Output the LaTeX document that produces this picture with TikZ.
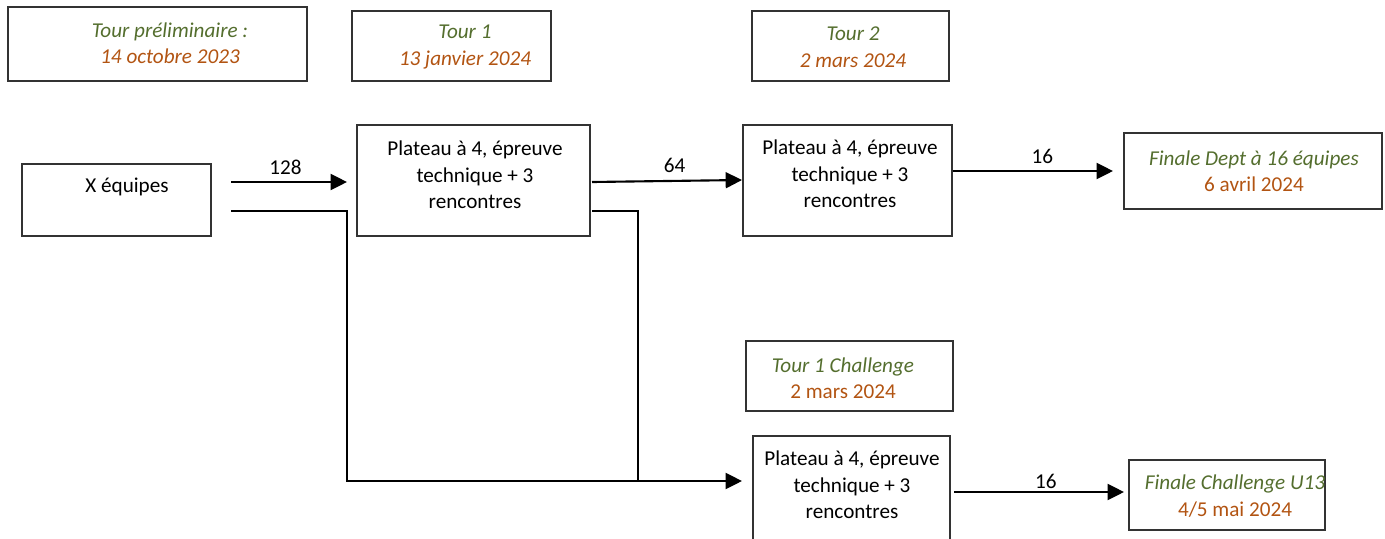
\documentclass[tikz,border=0pt]{standalone}
\usepackage{fontspec}
\setmainfont{Carlito}
\usetikzlibrary{arrows.meta,fit}

\definecolor{tourgreen}{RGB}{84,110,46}
\definecolor{datebrown}{RGB}{178,84,18}
\newcommand{\tourname}[1]{\textcolor{tourgreen}{\itshape #1}}
\newcommand{\tourday}[1]{\textcolor{datebrown}{#1}}

\tikzset{
  box/.style={draw=black!80, line width=0.6pt, inner sep=0pt},
  txt/.style={align=center, inner sep=0pt, font=\fontsize{11pt}{13.8pt}\selectfont},
  link/.style={line width=1.1pt},
  arrow/.style={link, -{Triangle[length=8.5pt,width=8.3pt]}},
  count/.style={above, inner sep=3.5pt, font=\fontsize{11pt}{13.8pt}\selectfont},
}

\begin{document}
\begin{tikzpicture}[x=0.52pt, y=-0.52pt]
    \useasboundingbox (0,0) rectangle (1385,538);
    % dates
    \node[box, fit={(8,7) (307,81)}] (prelbox) {};
    \node[txt] (prel) at (170,43) {\tourname{Tour préliminaire :}\\\tourday{\itshape 14 octobre 2023}};
    \node[box, fit={(352,11) (551,81)}] (t1box) {};
    \node[txt] (t1) at (465,47) {\tourname{Tour 1}\\\tourday{\itshape 13 janvier 2024}};
    \node[box, fit={(752,11) (949,81)}] (t2box) {};
    \node[txt] (t2) at (853,47) {\tourname{Tour 2}\\\tourday{\itshape 2 mars 2024}};
    \node[box, fit={(746,341) (953,411)}] (tcbox) {};
    \node[txt] (tc) at (843,378) {\tourname{Tour 1 Challenge}\\\tourday{2 mars 2024}};
    % rounds
    \node[box, fit={(22,164) (211,236)}] (xeqbox) {};
    \node[txt] (xeq) at (127,187) {X équipes};
    \node[box, fit={(357,125) (590,236)}] (plat1box) {};
    \node[txt] (plat1) at (475,175) {Plateau à 4, épreuve\\technique + 3\\rencontres};
    \node[box, fit={(743,125) (952,236)}] (plat2box) {};
    \node[txt] (plat2) at (850,174) {Plateau à 4, épreuve\\technique + 3\\rencontres};
    \node[box, fit={(753,436) (950,560)}] (platcbox) {};
    \node[txt] (platc) at (852,485) {Plateau à 4, épreuve\\technique + 3\\rencontres};
    \node[box, fit={(1124,133) (1382,209)}] (fdbox) {};
    \node[txt] (fd) at (1254,171) {\tourname{Finale Dept à 16 équipes}\\\tourday{6 avril 2024}};
    \node[box, fit={(1129,460) (1325,530)}] (fcbox) {};
    \node[txt] (fc) at (1235,496) {\tourname{Finale Challenge U13}\\\tourday{4/5 mai 2024}};
    % links
    \coordinate (a) at (231,182);
    \coordinate (b) at (347,182);
    \coordinate (c) at (231,211);
    \coordinate (d) at (742,481);
    \coordinate (e) at (592,182);
    \coordinate (f) at (742,180);
    \coordinate (g) at (592,211);
    \coordinate (h) at (1113,171);
    \coordinate (i) at (954,492);
    \coordinate (j) at (1124,492);
    \draw[arrow] (a) -- node[count, pos=0.47] {128} (b);
    \draw[arrow] (c) -- (347,211) -- (347,481) -- (d);
    \draw[arrow] (e) -- node[count, pos=0.55] {64} (f);
    \draw[link] (g) -- (638,211) -- (638,481);
    \draw[arrow] (plat2box.east |- h) -- node[count, pos=0.56] {16} (h);
    \draw[arrow] (i) -- node[count, pos=0.54, inner sep=1pt] {16} (j);
\end{tikzpicture}
\end{document}
